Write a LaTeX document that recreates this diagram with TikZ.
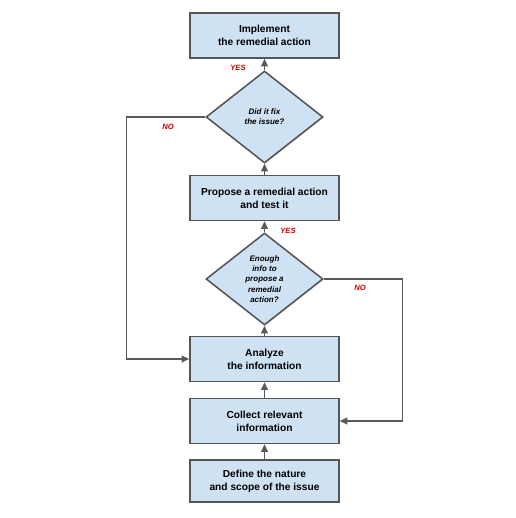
\documentclass[tikz,border=0pt]{standalone}
\usepackage{fontspec}
\setmainfont{Liberation Sans}
\usetikzlibrary{arrows.meta, shapes.geometric, shadows}
\definecolor{stepfill}{HTML}{CFE2F3}
\definecolor{stepborder}{HTML}{555555}
\definecolor{darkline}{HTML}{595959}
\definecolor{answerred}{HTML}{CC0000}
\tikzset{
  stepbox/.style={rectangle, align=center, fill=stepfill, draw=stepborder, line width=1.1pt,
    minimum width=3.725cm, minimum height=1.125cm, inner sep=1pt,
    font=\fontsize{7.25}{9.4}\selectfont\bfseries,
    drop shadow={shadow xshift=0.5pt, shadow yshift=-0.7pt, opacity=0.35}},
  check/.style={diamond, align=center, fill=stepfill, draw=stepborder, line width=1.1pt,
    minimum width=2.925cm, minimum height=2.3cm, inner sep=0pt,
    font=\fontsize{5.7}{7.3}\selectfont\bfseries\itshape,
    drop shadow={shadow xshift=0.5pt, shadow yshift=-0.7pt, opacity=0.35}},
  answer/.style={font=\fontsize{5.4}{6.5}\selectfont\bfseries\itshape, text=answerred},
  flow/.style={-{Triangle[length=1.9mm, width=1.7mm]}, line width=1pt, draw=darkline}
}
\begin{document}
\begin{tikzpicture}

\useasboundingbox (0,0) rectangle (12.9,12.95);

\node[stepbox] (implement) at (6.6125, 12.0625) {Implement\\the remedial action};
\node[check] (fixed) at (6.6125, 10.025) {Did it fix\\the issue?};
\node[stepbox] (propose) at (6.6125, 8.0) {Propose a remedial action\\and test it};
\node[check] (enough) at (6.6125, 5.975) {Enough\\info to\\propose a\\remedial\\action?};
\node[stepbox] (analyze) at (6.6125, 3.975) {Analyze\\the information};
\node[stepbox] (collect) at (6.6125, 2.425) {Collect relevant\\information};
\node[stepbox, minimum height=1.05cm] (define) at (6.6125, 0.925) {Define the nature\\and scope of the issue};

\coordinate (leftrail) at (3.1675, 0);
\coordinate (rightrail) at (10.0675, 0);

\node[answer] (yesfix) at (5.95, 11.25) {YES};
\node[answer] (nofix) at (4.2, 9.775) {NO};
\node[answer] (yesinfo) at (7.2, 7.175) {YES};
\node[answer] (noinfo) at (9.0, 5.75) {NO};

\draw[flow] (define) -- (collect);
\draw[flow] (collect) -- (analyze);
\draw[flow] (analyze) -- (enough);
\draw[flow] (enough) -- (propose);
\draw[flow] (propose) -- (fixed);
\draw[flow] (fixed) -- (implement);
\draw[flow] (fixed.west) -- (fixed.west -| leftrail) |- (analyze.west);
\draw[flow] (enough.east) -- (enough.east -| rightrail) |- (collect.east);

\end{tikzpicture}
\end{document}
